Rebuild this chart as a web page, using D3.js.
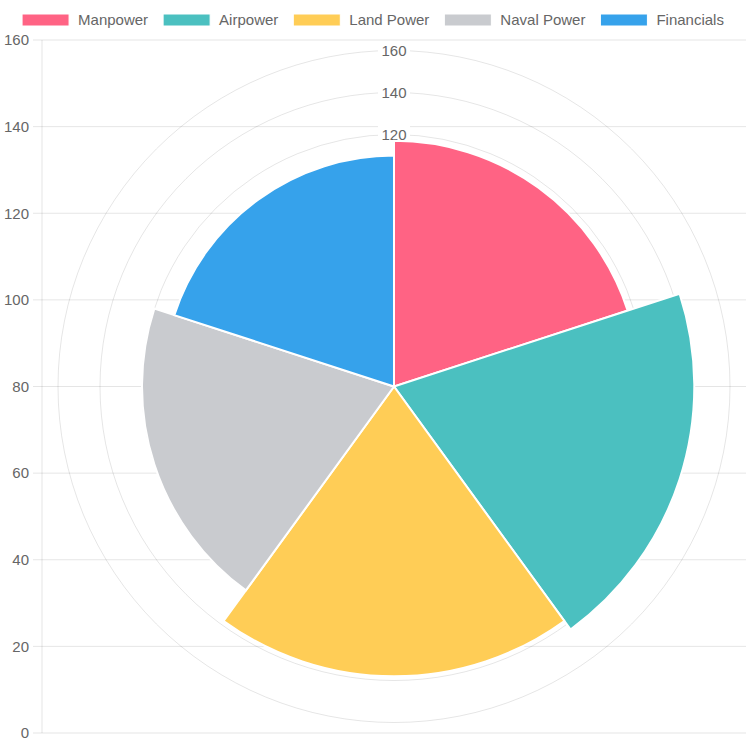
<!DOCTYPE html>
<html><head><meta charset="utf-8">
<script src="https://cdn.jsdelivr.net/npm/d3@7"></script>
<style>html,body{margin:0;padding:0;background:#fff;}svg{display:block;}</style>
</head><body>
<svg id="c" width="746" height="746"></svg>
<script>
const categories = ["Manpower", "Airpower", "Land Power", "Naval Power", "Financials"];
const values = [117, 143, 138, 120, 110];
const colors = ["rgb(255,99,132)", "rgb(75,192,192)", "rgb(255,205,86)", "rgb(201,203,207)", "rgb(54,162,235)"];
const yTicks = [0, 20, 40, 60, 80, 100, 120, 140, 160];
const rTicks = [20, 40, 60, 80, 100, 120, 140, 160];

(function () {
const svg = d3.select("#c");
const font = "'Liberation Sans', Arial, Helvetica, sans-serif";
const fs = 15;
const textColor = "#666";
const gridColor = "rgba(0,0,0,0.1)";

// chart area
const areaLeft = 42, areaRight = 746, areaTop = 40, areaBottom = 733;
const y = d3.scaleLinear().domain([0, 160]).range([areaBottom, areaTop]);

// cartesian grid
const g = svg.append("g");
g.selectAll("line.h").data(yTicks).join("line")
  .attr("x1", areaLeft - 9).attr("x2", areaRight)
  .attr("y1", d => y(d)).attr("y2", d => y(d))
  .attr("stroke", gridColor).attr("stroke-width", 1);
g.append("line").attr("x1", areaLeft).attr("x2", areaLeft).attr("y1", areaTop).attr("y2", areaBottom)
  .attr("stroke", gridColor).attr("stroke-width", 1);
g.selectAll("text.yl").data(yTicks).join("text")
  .attr("x", areaLeft - 13).attr("y", d => y(d)).attr("dy", "0.35em")
  .attr("text-anchor", "end").attr("font-family", font).attr("font-size", fs)
  .attr("fill", textColor).text(d => d);

// polar
const cx = (areaLeft + areaRight) / 2, cy = (areaTop + areaBottom) / 2;
const r = d3.scaleLinear().domain([0, 160]).range([0, 336]);
const pg = svg.append("g").attr("transform", `translate(${cx},${cy})`);
pg.selectAll("circle").data(rTicks).join("circle")
  .attr("r", d => r(d)).attr("fill", "none").attr("stroke", gridColor).attr("stroke-width", 1);
const lab = pg.selectAll("g.rl").data(rTicks).join("g").attr("transform", d => `translate(0,${-r(d)})`);
lab.append("rect").attr("x", -16).attr("y", -9).attr("width", 32).attr("height", 18).attr("fill", "#fff");
lab.append("text").attr("text-anchor", "middle").attr("dy", "0.35em")
  .attr("font-family", font).attr("font-size", fs).attr("fill", textColor).text(d => d);

const step = 2 * Math.PI / categories.length;
const arc = d3.arc().innerRadius(0);
pg.selectAll("path").data(values).join("path")
  .attr("d", (d, i) => arc({outerRadius: r(d), startAngle: i * step, endAngle: (i + 1) * step}))
  .attr("fill", (d, i) => colors[i]).attr("stroke", "#fff").attr("stroke-width", 2)
  .attr("stroke-linejoin", "miter");

// legend
const lg = svg.append("g");
const boxW = 47, boxH = 12, gapText = 9, gapItem = 15;
const tmp = svg.append("text").attr("font-family", font).attr("font-size", fs);
const widths = categories.map(c => { tmp.text(c); return tmp.node().getComputedTextLength(); });
tmp.remove();
const total = d3.sum(widths) + categories.length * (boxW + gapText) + (categories.length - 1) * gapItem;
let x0 = (746 - total) / 2;
categories.forEach((c, i) => {
  lg.append("rect").attr("x", x0).attr("y", 14).attr("width", boxW).attr("height", boxH)
    .attr("fill", colors[i]).attr("stroke", "#fff").attr("stroke-width", 1);
  lg.append("text").attr("x", x0 + boxW + gapText).attr("y", 20).attr("dy", "0.35em")
    .attr("font-family", font).attr("font-size", fs).attr("fill", textColor).text(c);
  x0 += boxW + gapText + widths[i] + gapItem;
});
})();
</script>
</body></html>
